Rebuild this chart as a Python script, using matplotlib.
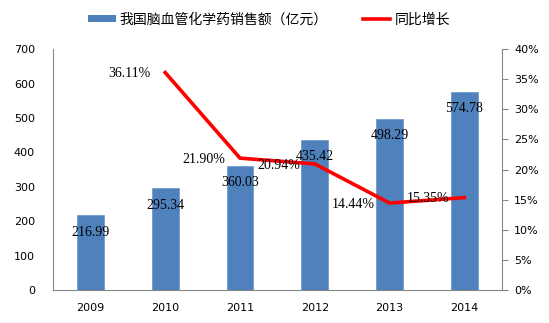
import matplotlib
matplotlib.use("Agg")
import matplotlib.pyplot as plt
from matplotlib.patches import Patch
from matplotlib.lines import Line2D

years = ["2009", "2010", "2011", "2012", "2013", "2014"]
sales = [216.99, 295.34, 360.03, 435.42, 498.29, 574.78]
growth_years = ["2010", "2011", "2012", "2013", "2014"]
growth = [36.11, 21.90, 20.94, 14.44, 15.35]

bar_color = "#4F81BD"
line_color = "#FF0000"
axis_gray = "#868686"

plt.rcParams["font.family"] = ["DejaVu Sans"]

fig = plt.figure(figsize=(5.49, 3.23), dpi=100)
ax = fig.add_axes([0.0965, 0.102, 0.8175, 0.746])
ax2 = ax.twinx()

x = list(range(len(years)))
ax.bar(x, sales, width=0.36, color=bar_color, edgecolor="#6A94C8", linewidth=0.5, zorder=2)
for xi, v in zip(x, sales):
    ax.annotate(f"{v:.2f}", (xi, v), xytext=(0, -12), textcoords="offset points",
                ha="center", va="center", fontsize=10, family="Liberation Serif",
                color="black", zorder=5)

gx = [years.index(y) for y in growth_years]
gy = [g / 100 for g in growth]
ax2.plot(gx, gy, color=line_color, linewidth=2.6, solid_joinstyle="miter", zorder=3)
for xi, g in zip(gx, growth):
    ax2.annotate(f"{g:.2f}%", (xi, g / 100), xytext=(-26, -1), textcoords="offset points",
                 ha="center", va="center", fontsize=10, family="Liberation Serif",
                 color="black", zorder=5)

ax.set_xlim(-0.5, 5.5)
ax.set_ylim(0, 700)
ax.set_yticks(range(0, 701, 100))
ax.set_xticks(x)
ax.set_xticklabels(years)
ax2.set_ylim(0, 0.40)
ax2.set_yticks([i * 0.05 for i in range(9)])
ax2.set_yticklabels([f"{i * 5}%" for i in range(9)])

ax.tick_params(axis="y", length=0, pad=13, labelsize=8)
ax.tick_params(axis="x", length=0, pad=9, labelsize=8)
ax2.tick_params(axis="y", length=4, width=0.8, color=axis_gray, pad=5, labelsize=8)

for a in (ax, ax2):
    a.spines["top"].set_visible(False)
    for s in ("left", "bottom", "right"):
        a.spines[s].set_color(axis_gray)
        a.spines[s].set_linewidth(0.8)
ax.spines["right"].set_visible(False)
ax2.spines["left"].set_visible(False)
ax2.spines["bottom"].set_visible(False)

handles = [Patch(facecolor=bar_color, edgecolor="none"),
           Line2D([0], [0], color=line_color, linewidth=2.6)]
labels = ["我国脑血管化学药销售额（亿元）", "同比增长"]
fig.legend(handles, labels, loc="center", bbox_to_anchor=(0.49, 0.94), ncol=2,
           frameon=False, handlelength=2.0, handleheight=0.45, handletextpad=0.3,
           columnspacing=2.5, prop={"family": ["Noto Sans CJK SC", "DejaVu Sans"], "size": 10})

fig.savefig("out.png", dpi=100)
